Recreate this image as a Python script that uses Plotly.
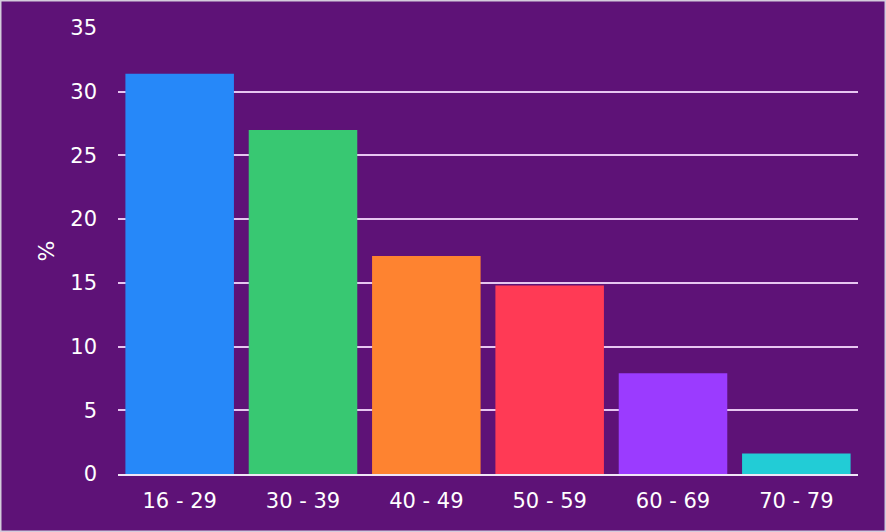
import plotly.graph_objects as go

categories = ["16 - 29", "30 - 39", "40 - 49", "50 - 59", "60 - 69", "70 - 79"]
values = [31.4, 27.0, 17.1, 14.8, 7.9, 1.6]
colors = ["#2688f9", "#38c872", "#fe8330", "#ff3a55", "#9b3bff", "#22ccd6"]

bg = "#5e1277"
font = "DejaVu Sans, Verdana, sans-serif"

fig = go.Figure(go.Bar(x=categories, y=values, marker=dict(color=colors, line=dict(width=0)),
                       hoverinfo="x+y"))

W, H = 886, 532
ml, mr, mt, mb = 118, 28, 28, 58
pw, ph = W - ml - mr, H - mt - mb

fig.update_layout(
    width=W, height=H,
    margin=dict(l=ml, r=mr, t=mt, b=mb, pad=0),
    paper_bgcolor=bg, plot_bgcolor=bg,
    bargap=0.12,
    showlegend=False,
    font=dict(family=font, size=21, color="white"),
    xaxis=dict(showgrid=False, showline=True, linecolor="#f0e6f6", linewidth=2,
               ticks="", ticklabelstandoff=7, tickfont=dict(size=21, color="white")),
    yaxis=dict(range=[0, 35], dtick=5, showgrid=True, gridcolor="#e6c6f0", gridwidth=2,
               zeroline=False, showline=False, ticks="", ticklabelstandoff=20,
               tickfont=dict(size=21, color="white"),
               title=dict(text="%", font=dict(size=22, color="white"), standoff=9)),
    shapes=[dict(type="rect", xref="paper", yref="paper",
                 x0=-ml / pw, x1=1 + mr / pw, y0=-mb / ph, y1=1 + mt / ph,
                 line=dict(color="#d4ccdc", width=3), fillcolor="rgba(0,0,0,0)", layer="above")],
)

fig.write_html("out.html", config={"displayModeBar": False},
               post_script="document.body.style.margin='0';document.body.style.overflow='hidden';")
